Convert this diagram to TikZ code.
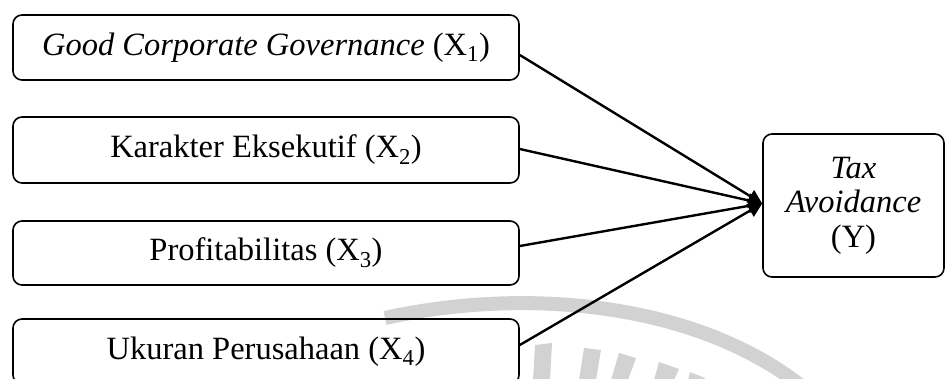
\documentclass[tikz,border=0pt]{standalone}
\usepackage{fontspec}
\setmainfont{Liberation Serif}
\usetikzlibrary{arrows.meta,calc}
\begin{document}
\begin{tikzpicture}[x=1pt,y=-1pt,
  varbox/.style={draw=black,line width=1.6pt,rounded corners=9pt,minimum width=506pt,inner sep=0pt,font=\fontsize{32.5}{34.5}\selectfont},
  link/.style={line width=2.4pt,-{Triangle[length=14pt,width=14pt]}},
  wm/.style={gray!35,line width=14pt}]
\useasboundingbox (0,0) rectangle (947,378);
% faint watermark
\draw[wm] (385,318) .. controls (520,288) and (690,300) .. (800,385);
\fill[gray!35] (535,345) -- (552,343) -- (550,380) -- (533,380) -- cycle;
\fill[gray!35] (584,348) -- (601,350) -- (596,380) -- (579,380) -- cycle;
\fill[gray!35] (619,353) -- (636,358) -- (628,380) -- (611,380) -- cycle;
\fill[gray!35] (659,362) -- (679,369) -- (674,380) -- (654,380) -- cycle;
\fill[gray!35] (690,372) -- (705,378) -- (703,380) -- (688,380) -- cycle;
% boxes
\node[varbox,minimum height=65pt] (b1) at (266,47.5) {\textit{Good Corporate Governance} (X\textsubscript{1})};
\node[varbox,minimum height=66pt] (b2) at (266,150) {Karakter Eksekutif (X\textsubscript{2})};
\node[varbox,minimum height=64pt] (b3) at (266,253) {Profitabilitas (X\textsubscript{3})};
\node[varbox,minimum height=65pt] (b4) at (266,351.5) {Ukuran Perusahaan (X\textsubscript{4})};
\node[varbox,minimum width=181pt,minimum height=143pt,align=center] (t) at (853.5,205.5) {\textit{Tax}\\\textit{Avoidance}\\(Y)};
% connectors
\draw[link] ($(b1.east)+(0,7.5)$) -- ($(t.west)+(0,-2)$);
\draw[link] ($(b2.east)+(0,-1)$) -- ($(t.west)+(0,-2)$);
\draw[link] ($(b3.east)+(0,-7)$) -- ($(t.west)+(0,-2)$);
\draw[link] ($(b4.east)+(0,-6.5)$) -- ($(t.west)+(0,-2)$);
\end{tikzpicture}
\end{document}
